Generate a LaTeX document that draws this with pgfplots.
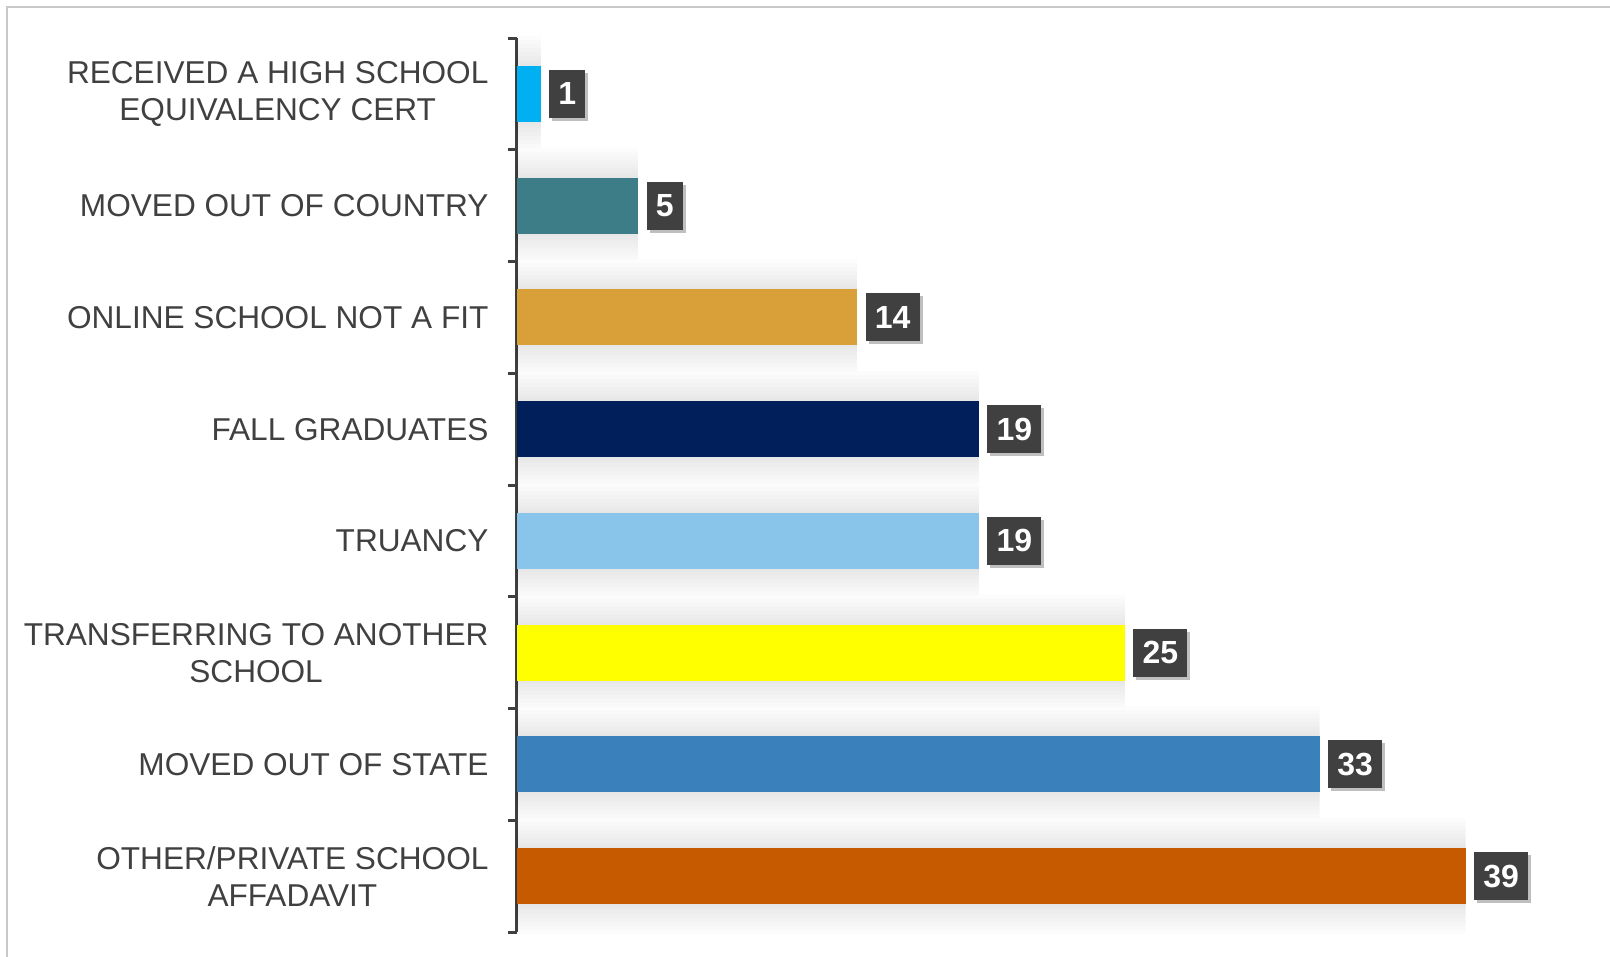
\documentclass[border=0pt]{standalone}
\usepackage{pgfplots}
\pgfplotsset{compat=1.18}
\usepackage{pgfplotstable}
\usepackage{fontspec}
\setmainfont{Liberation Sans}
\usetikzlibrary{shadows}
\definecolor{axgray}{HTML}{404040}
\definecolor{labgray}{HTML}{404040}
\definecolor{boxgray}{HTML}{404040}
\definecolor{framegray}{HTML}{C8C8C8}
\definecolor{cA}{HTML}{00B0F0}
\definecolor{cB}{HTML}{3D7D87}
\definecolor{cC}{HTML}{D9A03A}
\definecolor{cD}{HTML}{001F5B}
\definecolor{cE}{HTML}{89C4EA}
\definecolor{cF}{HTML}{FFFF00}
\definecolor{cG}{HTML}{3A80BB}
\definecolor{cH}{HTML}{C55A00}
\pgfplotstableread{
v y
1 1
5 2
14 3
19 4
19 5
25 6
33 7
39 8
}\datatab
\begin{document}
\begin{tikzpicture}
\path[use as bounding box] (0pt,0pt) rectangle (805pt,-478.5pt);
\draw[framegray, line width=1pt] (3.5pt,-478.5pt) -- (3.5pt,-3.5pt) -- (805pt,-3.5pt);
\begin{axis}[
  at={(258.25pt,-19pt)}, anchor=north west,
  scale only axis,
  width=547.6pt, height=447pt,
  xmin=0, xmax=45,
  ymin=0.5, ymax=8.5, y dir=reverse,
  xbar, bar width=28pt,
  every axis plot/.append style={bar shift=0pt, draw=none},
  axis x line=none,
  axis y line=left,
  axis line style={-, axgray, line width=1.5pt},
  ytick={1,...,8},
  yticklabels={{RECEIVED A HIGH SCHOOL\\EQUIVALENCY CERT},{MOVED OUT OF COUNTRY},{ONLINE SCHOOL NOT A FIT},{FALL GRADUATES},{TRUANCY},{TRANSFERRING TO ANOTHER\\SCHOOL},{MOVED OUT OF STATE},{OTHER/PRIVATE SCHOOL\\AFFADAVIT}},
  minor ytick={0.5,1.5,...,8.5},
  major tick length=0pt,
  minor tick length=4.5pt,
  tick align=outside,
  tick style={axgray, line width=1.5pt},
  yticklabel style={font=\fontsize{15.8}{18.5}\selectfont, text=labgray, align=center, xshift=-10.5pt},
  /pgf/number format/assume math mode=true,
  haze/.style={fill=black, fill opacity=0.012, bar width=#1},
  lbl/.style={nodes near coords,
  every node near coord/.append style={anchor=west, xshift=4pt, fill=boxgray, text=white,
     font=\fontsize{16}{16}\selectfont\bfseries, minimum height=24pt, inner xsep=4.6pt, inner ysep=0pt,
     drop shadow={shadow xshift=1.5pt, shadow yshift=-1.5pt, fill=black, opacity=0.25}}},
  clip=false,
]
% soft shadow haze behind the bars
\addplot[haze=58pt] table[x=v,y=y] {\datatab};
\addplot[haze=54pt] table[x=v,y=y] {\datatab};
\addplot[haze=50pt] table[x=v,y=y] {\datatab};
\addplot[haze=46pt] table[x=v,y=y] {\datatab};
\addplot[haze=42pt] table[x=v,y=y] {\datatab};
\addplot[haze=38pt] table[x=v,y=y] {\datatab};
\addplot[haze=34pt] table[x=v,y=y] {\datatab};
\addplot[haze=31pt] table[x=v,y=y] {\datatab};
% bars
\addplot[fill=cA, lbl] coordinates {(1,1)};
\addplot[fill=cB, lbl] coordinates {(5,2)};
\addplot[fill=cC, lbl] coordinates {(14,3)};
\addplot[fill=cD, lbl] coordinates {(19,4)};
\addplot[fill=cE, lbl] coordinates {(19,5)};
\addplot[fill=cF, lbl] coordinates {(25,6)};
\addplot[fill=cG, lbl] coordinates {(33,7)};
\addplot[fill=cH, lbl] coordinates {(39,8)};
\end{axis}
\end{tikzpicture}
\end{document}
